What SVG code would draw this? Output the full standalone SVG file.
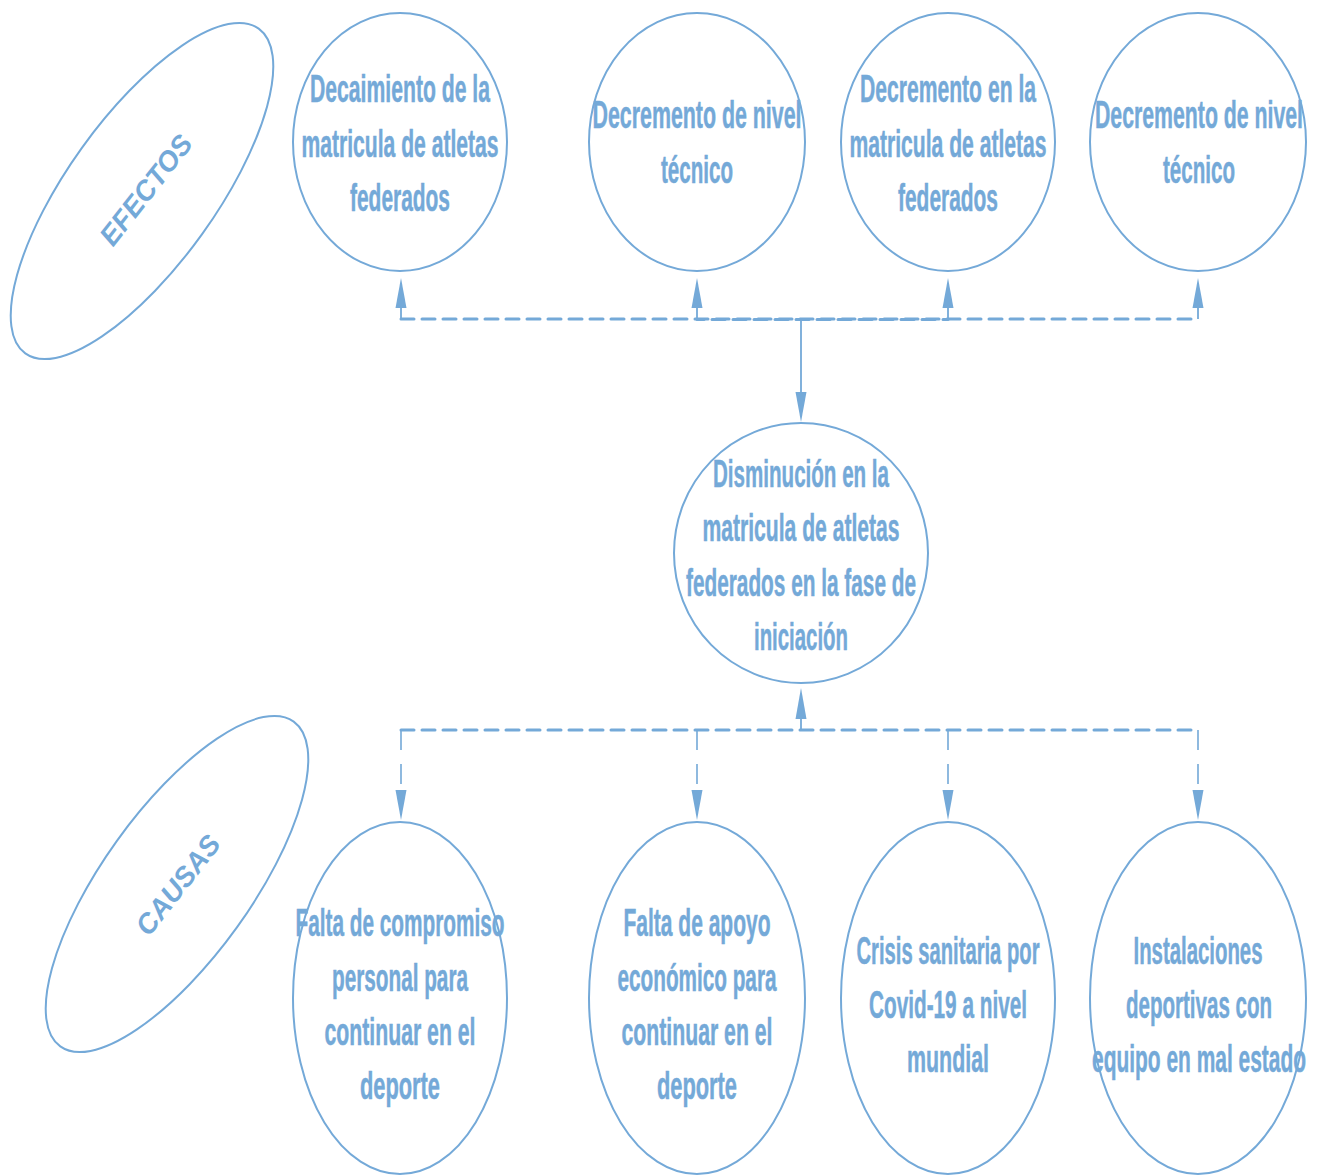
<svg xmlns="http://www.w3.org/2000/svg" width="1319" height="1175" viewBox="0 0 1319 1175">
<style>
.node{fill:#fff;stroke:#74A9D8;stroke-width:2}
.t{font-family:"Liberation Sans",Arial,sans-serif;font-weight:bold;font-size:38px;fill:#74A9D8;stroke:#74A9D8;stroke-width:0.5;text-anchor:middle}
.lbl{font-family:"Liberation Sans",Arial,sans-serif;font-weight:bold;font-style:italic;font-size:28px;fill:#74A9D8;text-anchor:middle;dominant-baseline:central}
.dash{fill:none;stroke:#74A9D8;stroke-width:3;stroke-dasharray:13 8;stroke-linecap:round}
.vd{fill:none;stroke:#74A9D8;stroke-width:1.6;stroke-dasharray:20 14}
.thin{fill:none;stroke:#74A9D8;stroke-width:1.8}
.ah{fill:#74A9D8}
</style>
<rect width="1319" height="1175" fill="#fff"/>
<g id="connectors">
<path class="dash" d="M401 319 H1198"/>
<path class="dash" d="M697 319.5 H948" stroke-dashoffset="6"/>
<path class="thin" d="M401 319 V305 M697 319 V305 M948 319 V305 M1198 319 V305"/>
<polygon class="ah" points="401,278 395.5,308 406.5,308"/>
<polygon class="ah" points="697,278 691.5,308 702.5,308"/>
<polygon class="ah" points="948,278 942.5,308 953.5,308"/>
<polygon class="ah" points="1198,278 1192.5,308 1203.5,308"/>
<path class="thin" d="M801 319 V395"/>
<polygon class="ah" points="801,422 795.5,392 806.5,392"/>
<path class="dash" d="M401 730 H1198"/>
<path class="thin" d="M801 730 V716"/>
<polygon class="ah" points="801,688 795.5,719 806.5,719"/>
<path class="vd" d="M401 730 V792 M697 730 V792 M948 730 V792 M1198 730 V792"/>
<polygon class="ah" points="401,820 395.5,790 406.5,790"/>
<polygon class="ah" points="697,820 691.5,790 702.5,790"/>
<polygon class="ah" points="948,820 942.5,790 953.5,790"/>
<polygon class="ah" points="1198,820 1192.5,790 1203.5,790"/>
</g>
<g id="efectos">
<ellipse class="node" cx="142" cy="191" rx="200" ry="74" transform="rotate(-54.3 142 191)"/>
<text class="lbl" x="146" y="190" transform="rotate(-52 146 190)">EFECTOS</text>
</g>
<g id="causas">
<ellipse class="node" cx="177" cy="884" rx="200" ry="74" transform="rotate(-54.3 177 884)"/>
<text class="lbl" x="178" y="885" transform="rotate(-52 178 885)">CAUSAS</text>
</g>
<g id="e1">
<ellipse class="node" cx="400" cy="142" rx="107" ry="129"/>
<text class="t" x="400" y="102" textLength="180" lengthAdjust="spacingAndGlyphs">Decaimiento de la</text>
<text class="t" x="400" y="157" textLength="197" lengthAdjust="spacingAndGlyphs">matricula de atletas</text>
<text class="t" x="400" y="211" textLength="100" lengthAdjust="spacingAndGlyphs">federados</text>
</g>
<g id="e2">
<ellipse class="node" cx="697" cy="142" rx="108" ry="129"/>
<text class="t" x="697" y="128" textLength="209" lengthAdjust="spacingAndGlyphs">Decremento de nivel</text>
<text class="t" x="697" y="183" textLength="72" lengthAdjust="spacingAndGlyphs">técnico</text>
</g>
<g id="e3">
<ellipse class="node" cx="948" cy="142" rx="107" ry="129"/>
<text class="t" x="948" y="102" textLength="176" lengthAdjust="spacingAndGlyphs">Decremento en la</text>
<text class="t" x="948" y="157" textLength="197" lengthAdjust="spacingAndGlyphs">matricula de atletas</text>
<text class="t" x="948" y="211" textLength="100" lengthAdjust="spacingAndGlyphs">federados</text>
</g>
<g id="e4">
<ellipse class="node" cx="1198" cy="142" rx="108" ry="129"/>
<text class="t" x="1199" y="128" textLength="208" lengthAdjust="spacingAndGlyphs">Decremento de nivel</text>
<text class="t" x="1199" y="183" textLength="72" lengthAdjust="spacingAndGlyphs">técnico</text>
</g>
<g id="centro">
<ellipse class="node" cx="801" cy="553" rx="127" ry="130"/>
<text class="t" x="801" y="487" textLength="176" lengthAdjust="spacingAndGlyphs">Disminución en la</text>
<text class="t" x="801" y="541" textLength="197" lengthAdjust="spacingAndGlyphs">matricula de atletas</text>
<text class="t" x="801" y="596" textLength="230" lengthAdjust="spacingAndGlyphs">federados en la fase de</text>
<text class="t" x="801" y="650" textLength="94" lengthAdjust="spacingAndGlyphs">iniciación</text>
</g>
<g id="c1">
<ellipse class="node" cx="400" cy="998" rx="107" ry="176"/>
<text class="t" x="400" y="936" textLength="209" lengthAdjust="spacingAndGlyphs">Falta de compromiso</text>
<text class="t" x="400" y="991" textLength="136" lengthAdjust="spacingAndGlyphs">personal para</text>
<text class="t" x="400" y="1045" textLength="151" lengthAdjust="spacingAndGlyphs">continuar en el</text>
<text class="t" x="400" y="1099" textLength="80" lengthAdjust="spacingAndGlyphs">deporte</text>
</g>
<g id="c2">
<ellipse class="node" cx="697" cy="998" rx="108" ry="176"/>
<text class="t" x="697" y="936" textLength="147" lengthAdjust="spacingAndGlyphs">Falta de apoyo</text>
<text class="t" x="697" y="991" textLength="159" lengthAdjust="spacingAndGlyphs">económico para</text>
<text class="t" x="697" y="1045" textLength="151" lengthAdjust="spacingAndGlyphs">continuar en el</text>
<text class="t" x="697" y="1099" textLength="80" lengthAdjust="spacingAndGlyphs">deporte</text>
</g>
<g id="c3">
<ellipse class="node" cx="948" cy="998" rx="107" ry="176"/>
<text class="t" x="948" y="964" textLength="183" lengthAdjust="spacingAndGlyphs">Crisis sanitaria por</text>
<text class="t" x="948" y="1018" textLength="158" lengthAdjust="spacingAndGlyphs">Covid-19 a nivel</text>
<text class="t" x="948" y="1072" textLength="82" lengthAdjust="spacingAndGlyphs">mundial</text>
</g>
<g id="c4">
<ellipse class="node" cx="1198" cy="998" rx="108" ry="176"/>
<text class="t" x="1198" y="964" textLength="129" lengthAdjust="spacingAndGlyphs">Instalaciones</text>
<text class="t" x="1199" y="1018" textLength="146" lengthAdjust="spacingAndGlyphs">deportivas con</text>
<text class="t" x="1199" y="1072" textLength="214" lengthAdjust="spacingAndGlyphs">equipo en mal estado</text>
</g>
</svg>
